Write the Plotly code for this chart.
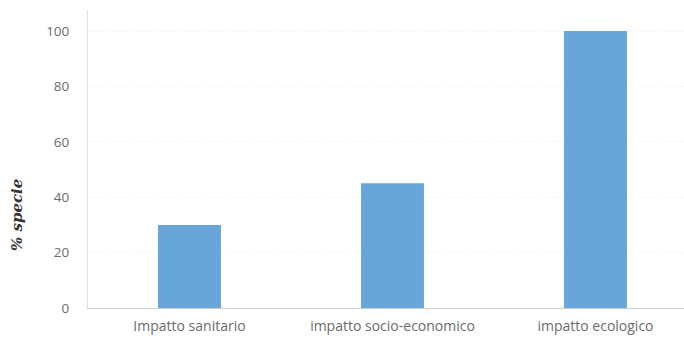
import plotly.graph_objects as go

categories = ["Impatto sanitario", "impatto socio-economico", "impatto ecologico"]
values = [30, 45, 100]
y_ticks = [0, 20, 40, 60, 80, 100]

fig = go.Figure()
fig.add_trace(go.Bar(
    x=categories, y=values, width=0.31,
    marker=dict(color="#68A6DA", line=dict(width=0)),
))
fig.update_layout(
    width=684, height=338,
    margin=dict(l=88, r=0, t=10, b=30),
    paper_bgcolor="white", plot_bgcolor="white",
    showlegend=False,
    font=dict(family="Open Sans, sans-serif", size=13, color="#6b6b6b"),
)
fig.update_xaxes(
    range=[-0.5, 2.436], showline=True, linecolor="#d0d0d0", linewidth=1,
    ticks="", showgrid=False, tickfont=dict(size=14, color="#6b6b6b"),
    ticklabelstandoff=5,
)
fig.update_yaxes(
    range=[0, 107.6], tickvals=y_ticks, showline=True, linecolor="#e0e0e0",
    linewidth=1, ticks="", showgrid=True, gridcolor="#f4f4f4", griddash="dot",
    zeroline=False, ticklabelstandoff=15, tickfont=dict(size=13.5, color="#6b6b6b"),
)
fig.add_annotation(
    text="<b><i>% specie</i></b>", xref="paper", yref="paper",
    x=(17 - 88) / 596, y=(308 - 215) / 298, textangle=-90, showarrow=False,
    xanchor="center", yanchor="middle",
    font=dict(family="DejaVu Serif, serif", size=15, color="#333333"),
)
fig.write_html("out.html")
